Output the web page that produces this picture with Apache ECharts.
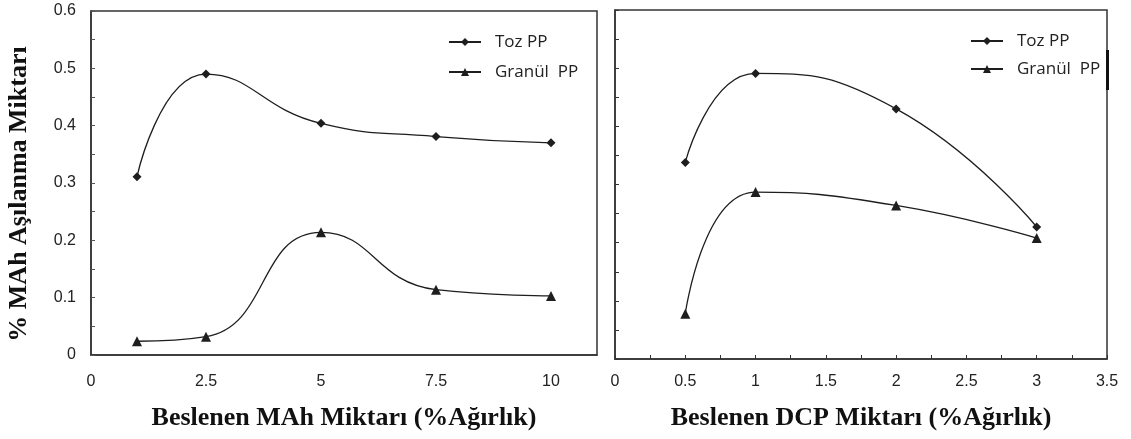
<!DOCTYPE html>
<html>
<head>
<meta charset="utf-8">
<script src="https://cdn.jsdelivr.net/npm/echarts@6/dist/echarts.min.js"></script>
<style>html,body{margin:0;padding:0;background:#fff;}#c{width:1131px;height:439px;}</style>
</head>
<body>
<div id="c"></div>
<script>
// Left panel: MAh feed amount
const maX = [1, 2.5, 5, 7.5, 10];
const maToz = [0.311, 0.490, 0.404, 0.381, 0.370];
const maGranul = [0.024, 0.032, 0.214, 0.114, 0.103];
// Right panel: DCP feed amount
const dcpX = [0.5, 1, 2, 3];
const dcpToz = [0.338, 0.491, 0.430, 0.227];
const dcpGranul = [0.078, 0.287, 0.264, 0.208];

const nameToz = 'Toz PP';
const nameGranul = 'Granül  PP';
const yTitle = '% MAh Aşılanma Miktarı';
const xTitleLeft = 'Beslenen MAh Miktarı (%Ağırlık)';
const xTitleRight = 'Beslenen DCP Miktarı (%Ağırlık)';

const pair = (xs, ys) => xs.map((x, i) => [x, ys[i]]);
const ink = '#1e1e1e';
const tickFont = {fontFamily: 'Liberation Sans, Arial, sans-serif', fontSize: 16, color: '#222'};
const titleFont = {fontFamily: 'Liberation Serif, Times New Roman, serif', fontWeight: 'bold', fontSize: 26, color: '#111'};

const chart = echarts.init(document.getElementById('c'), null, {renderer: 'canvas'});
const legendBase = {
  orient: 'vertical', itemWidth: 32, itemHeight: 10,
  textStyle: {fontFamily: 'Open Sans, sans-serif', fontSize: 17, color: '#222', padding: [0, 0, 0, 9], lineHeight: 20},
  data: [nameToz, nameGranul], selectedMode: false
};
const lineSeries = (name, xi, xs, ys, sym, size) => ({
  name: name, type: 'line', xAxisIndex: xi, yAxisIndex: xi, data: pair(xs, ys),
  smooth: 0.5, smoothMonotone: 'none',
  symbol: sym, symbolSize: size, lineStyle: {color: ink, width: 1.3}, itemStyle: {color: ink}
});
chart.setOption({
  animation: false,
  grid: [
    {left: 91, right: 534, top: 11, bottom: 84, show: true, borderColor: '#333', borderWidth: 1.5, backgroundColor: 'transparent'},
    {left: 615, right: 24, top: 10, bottom: 80, show: true, borderColor: '#333', borderWidth: 1.5, backgroundColor: 'transparent'}
  ],
  legend: [
    Object.assign({}, legendBase, {left: 443, top: 27, itemGap: 10}),
    Object.assign({}, legendBase, {left: 965, top: 26, itemGap: 8})
  ],
  xAxis: [
    {gridIndex: 0, type: 'value', min: 0, max: 11, interval: 2.5,
     axisLine: {show: true, lineStyle: {color: '#333', width: 1.5}}, axisTick: {show: false},
     splitLine: {show: false}, axisLabel: Object.assign({margin: 19, showMaxLabel: false}, tickFont),
     name: xTitleLeft, nameLocation: 'middle', nameGap: 50, nameTextStyle: titleFont},
    {gridIndex: 1, type: 'value', min: 0, max: 3.5, interval: 0.5,
     axisLine: {show: true, lineStyle: {color: '#333', width: 1.5}},
     axisTick: {show: true, inside: true, length: 4, lineStyle: {color: '#333'}},
     minorTick: {show: true, splitNumber: 2, length: 4, lineStyle: {color: '#333'}},
     splitLine: {show: false}, axisLabel: Object.assign({margin: 15}, tickFont),
     name: xTitleRight, nameLocation: 'middle', nameGap: 46, nameTextStyle: titleFont}
  ],
  yAxis: [
    {gridIndex: 0, type: 'value', min: 0, max: 0.6, interval: 0.1,
     axisLine: {show: true, lineStyle: {color: '#333', width: 1.5}},
     axisTick: {show: true, inside: true, length: 4, lineStyle: {color: '#555'}},
     minorTick: {show: true, splitNumber: 2, length: 4, lineStyle: {color: '#555'}},
     splitLine: {show: false}, axisLabel: Object.assign({margin: 15}, tickFont),
     name: yTitle, nameLocation: 'middle', nameGap: 59, nameRotate: 90,
     nameTextStyle: Object.assign({padding: [0, 22, 0, 0]}, titleFont)},
    {gridIndex: 1, type: 'value', min: 0, max: 0.6, interval: 0.1,
     axisLine: {show: true, lineStyle: {color: '#333', width: 1.5}},
     axisTick: {show: true, inside: true, length: 4, lineStyle: {color: '#333'}},
     minorTick: {show: true, splitNumber: 2, length: 4, lineStyle: {color: '#333'}},
     splitLine: {show: false}, axisLabel: {show: false}}
  ],
  series: [
    lineSeries(nameToz, 0, maX, maToz, 'diamond', 9),
    lineSeries(nameGranul, 0, maX, maGranul, 'triangle', 10),
    lineSeries(nameToz, 1, dcpX, dcpToz, 'diamond', 9),
    lineSeries(nameGranul, 1, dcpX, dcpGranul, 'triangle', 10)
  ],
  graphic: [
    {type: 'rect', left: 1106, top: 50, shape: {width: 3, height: 40}, style: {fill: '#111'}}
  ]
});
</script>
</body>
</html>
